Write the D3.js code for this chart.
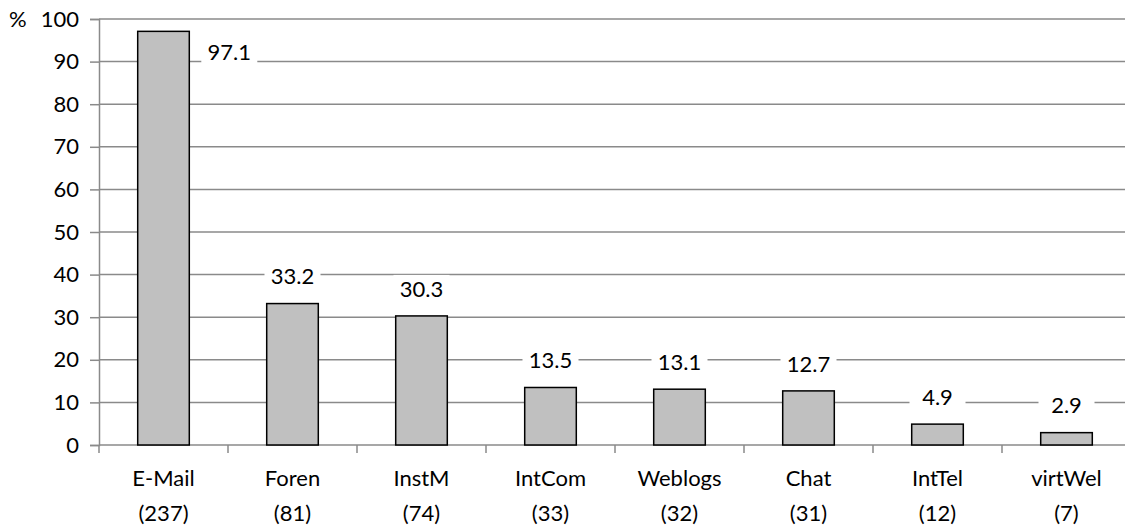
<!DOCTYPE html>
<html>
<head>
<meta charset="utf-8">
<script src="https://cdn.jsdelivr.net/npm/d3@7"></script>
<style>
  html, body { margin: 0; padding: 0; background: #fff; }
  svg { display: block; font-family: Lato, "Open Sans", sans-serif; }
</style>
</head>
<body>
<svg id="chart" width="1125" height="529"></svg>
<script>
// Usage of internet services, share in percent with respondent counts
const categories = ["E-Mail", "Foren", "InstM", "IntCom", "Weblogs", "Chat", "IntTel", "virtWel"];
const counts = [237, 81, 74, 33, 32, 31, 12, 7];
const percents = [97.1, 33.2, 30.3, 13.5, 13.1, 12.7, 4.9, 2.9];
const yTicks = [0, 10, 20, 30, 40, 50, 60, 70, 80, 90, 100];

const svg = d3.select("#chart");
const plotLeft = 99, plotRight = 1131, plotTop = 19, plotBottom = 445;
const fontSize = 22;

const x = d3.scaleBand().domain(categories).range([plotLeft, plotRight]).paddingInner(0.6).paddingOuter(0.3);
const y = d3.scaleLinear().domain([0, 100]).range([plotBottom, plotTop]);

const gridColor = "#8a8a8a";

// horizontal gridlines
svg.append("g").selectAll("line").data(yTicks.filter(d => d > 0)).join("line")
  .attr("x1", plotLeft).attr("x2", 1125)
  .attr("y1", d => y(d)).attr("y2", d => y(d))
  .attr("stroke", gridColor).attr("stroke-width", 1.5);

// y axis
const yAxis = svg.append("g").attr("transform", `translate(${plotLeft},0)`)
  .call(d3.axisLeft(y).tickValues(yTicks).tickSize(9).tickPadding(11));
yAxis.select(".domain").attr("stroke", gridColor).attr("stroke-width", 1.5);
yAxis.selectAll(".tick line").attr("stroke", gridColor).attr("stroke-width", 1.5);
yAxis.selectAll(".tick text").attr("font-size", fontSize).attr("fill", "#000")
  .attr("font-family", "Lato, 'Open Sans', sans-serif");

svg.append("text").attr("x", 9).attr("y", y(100)).attr("dy", "0.35em")
  .attr("font-size", fontSize).text("%");

// x axis baseline and band boundary ticks
const xAxisG = svg.append("g");
xAxisG.append("line").attr("x1", plotLeft).attr("x2", 1125)
  .attr("y1", plotBottom).attr("y2", plotBottom)
  .attr("stroke", gridColor).attr("stroke-width", 1.5);
const step = x.step();
xAxisG.selectAll("line.tk").data(categories).join("line").attr("class", "tk")
  .attr("x1", (d, i) => plotLeft + i * step).attr("x2", (d, i) => plotLeft + i * step)
  .attr("y1", plotBottom).attr("y2", plotBottom + 8)
  .attr("stroke", gridColor).attr("stroke-width", 1.5);

// bars
svg.append("g").selectAll("rect").data(categories).join("rect")
  .attr("x", d => x(d))
  .attr("width", x.bandwidth())
  .attr("y", (d, i) => y(percents[i]))
  .attr("height", (d, i) => plotBottom - y(percents[i]))
  .attr("fill", "#c0c0c0").attr("stroke", "#000").attr("stroke-width", 1.5);

// category labels with counts
const xl = svg.append("g").selectAll("text").data(categories).join("text")
  .attr("text-anchor", "middle").attr("font-size", fontSize);
xl.append("tspan").attr("x", d => x(d) + x.bandwidth() / 2).attr("y", 486).text(d => d);
xl.append("tspan").attr("x", d => x(d) + x.bandwidth() / 2).attr("y", 521).text((d, i) => `(${counts[i]})`);

// value labels on white boxes; labels that would leave the plot sit beside the bar
const labels = svg.append("g").selectAll("g").data(categories).join("g")
  .attr("transform", (d, i) => {
    const cx = x(d) + x.bandwidth() / 2;
    const ly = y(percents[i]) - 27;
    if (ly < plotTop + 10) return `translate(${x(d) + x.bandwidth() + 40},${y(percents[i]) + 21})`;
    return `translate(${cx},${ly})`;
  });
labels.append("rect").attr("x", -28).attr("y", -14).attr("width", 56).attr("height", 28).attr("fill", "#fff");
labels.append("text").attr("text-anchor", "middle").attr("dy", "0.35em")
  .attr("font-size", fontSize).text((d, i) => percents[i].toFixed(1));
</script>
</body>
</html>
